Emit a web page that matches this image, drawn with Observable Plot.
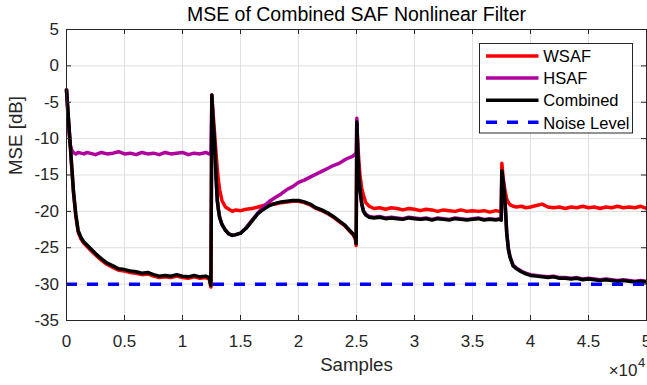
<!DOCTYPE html>
<html><head><meta charset="utf-8">
<script src="https://cdn.jsdelivr.net/npm/d3@7"></script>
<script src="https://cdn.jsdelivr.net/npm/@observablehq/plot@0.6"></script>
<style>
html,body{margin:0;padding:0;background:#fff;overflow:hidden}
#wrap{position:relative;width:647px;height:385px;font-family:"Liberation Sans",Arial,Helvetica,sans-serif}
</style></head><body><div id="wrap"></div>
<script>
const titleText = "MSE of Combined SAF Nonlinear Filter";
const xLabel = "Samples";
const yLabel = "MSE [dB]";
const xExponentBase = "×10";
const xExponent = "4";
const xTicks = [0, 5000, 10000, 15000, 20000, 25000, 30000, 35000, 40000, 45000, 50000];
const yTicks = [-35, -30, -25, -20, -15, -10, -5, 0, 5];
const seriesNames = ["WSAF", "HSAF", "Combined", "Noise Level"];
const seriesColors = ["#ff0000", "#b0009e", "#000000", "#0000ff"];
const noiseLevel = -30;

const samples = [
  0, 150, 300, 450, 600, 800, 1000, 1250, 1500, 1750, 2000, 2500, 3000, 3500, 4000, 4500, 5000, 5500, 6000, 6500, 7000, 7500, 8000, 8500, 9000, 9500, 10000, 10500, 11000, 11500, 12000, 12300, 12450,
  12530, 12600, 12700, 12800, 12900, 13000, 13100, 13200, 13400, 13700, 14000, 14300, 14600, 15000, 15500, 16000, 16500, 17000, 17500, 18000, 18500, 19000, 19500, 20000, 20500, 21000, 21500, 22000, 22500, 23000, 23500, 24000, 24400, 24700, 24900, 24970,
  25030, 25100, 25200, 25300, 25450, 25600, 25800, 26100, 26500, 27000, 27500, 28000, 28500, 29000, 29500, 30000, 30500, 31000, 31500, 32000, 32500, 33000, 33500, 34000, 34500, 35000, 35500, 36000, 36500, 37000, 37300, 37480,
  37530, 37650, 37800, 37950, 38100, 38250, 38500, 38800, 39200, 39600, 40000, 40500, 41000, 41500, 42000, 42500, 43000, 43500, 44000, 44500, 45000, 45500, 46000, 46500, 47000, 47500, 48000, 48500, 49000, 49500, 50000
];
const wsaf = [
  -3.3, -6.9, -10.4, -13.9, -17.4, -20.6, -22.8, -23.8, -24.4, -24.8, -25.2, -26.0, -26.7, -27.3, -27.7, -28.1, -28.2, -28.4, -28.5, -28.7, -28.6, -28.9, -29.1, -29.0, -29.1, -28.9, -29.1, -29.2, -29.0, -29.2, -29.1, -29.3, -30.4,
  -4.0, -5.8, -7.8, -10.0, -12.2, -14.2, -15.8, -17.0, -18.5, -19.4, -19.7, -20.0, -19.8, -19.9, -19.7, -19.6, -19.4, -19.2, -19.0, -19.0, -18.8, -18.7, -18.6, -18.6, -18.8, -19.1, -19.6, -19.9, -20.3, -20.8, -21.4, -22.0, -22.7, -23.2, -23.8, -24.7,
  -8.0, -10.5, -13.0, -15.0, -16.8, -17.8, -18.8, -19.3, -19.6, -19.5, -19.7, -19.5, -19.6, -19.8, -19.6, -19.7, -19.9, -19.7, -19.8, -20.0, -19.8, -19.9, -20.0, -19.8, -20.0, -19.9, -20.0, -19.9, -20.1, -19.9, -20.0, -20.0,
  -13.4, -15.5, -17.1, -18.3, -18.8, -19.1, -19.3, -19.4, -19.3, -19.5, -19.4, -19.2, -19.0, -19.4, -19.5, -19.4, -19.6, -19.4, -19.5, -19.3, -19.5, -19.4, -19.6, -19.4, -19.5, -19.3, -19.5, -19.4, -19.5, -19.3, -19.6
];
const hsaf = [
  -3.3, -7.6, -10.7, -11.6, -11.9, -12.1, -11.9, -12.0, -12.1, -11.9, -12.0, -12.2, -11.9, -12.1, -12.0, -11.8, -12.1, -12.0, -12.2, -11.9, -12.1, -12.0, -12.2, -11.9, -12.1, -12.0, -11.9, -12.2, -12.0, -12.1, -11.9, -12.1, -12.2,
  -4.2, -6.5, -9.0, -11.5, -15.5, -18.5, -19.8, -20.8, -21.8, -22.6, -23.1, -23.3, -23.2, -23.0, -22.2, -21.2, -20.2, -19.3, -18.6, -18.1, -17.6, -17.0, -16.6, -16.0, -15.7, -15.3, -14.9, -14.5, -14.1, -13.7, -13.4, -12.9, -12.6, -12.4, -12.1, -12.0,
  -7.2, -11.0, -14.6, -16.9, -18.9, -19.9, -20.4, -20.7, -20.8, -20.7, -20.9, -20.8, -20.9, -21.0, -20.8, -20.9, -21.0, -20.9, -21.1, -20.9, -21.0, -21.1, -20.9, -21.0, -21.1, -21.0, -20.9, -21.1, -21.0, -21.1, -21.0, -21.1,
  -14.6, -16.0, -18.4, -22.9, -25.2, -26.3, -27.4, -27.8, -28.2, -28.5, -28.7, -28.8, -28.9, -29.0, -28.9, -29.1, -29.1, -29.2, -29.1, -29.3, -29.2, -29.3, -29.4, -29.3, -29.4, -29.5, -29.4, -29.5, -29.6, -29.5, -29.6
];
const combined = [
  -3.3, -6.8, -10.3, -13.8, -17.2, -20.4, -22.6, -23.6, -24.2, -24.6, -25.0, -25.8, -26.5, -27.1, -27.5, -27.9, -28.0, -28.2, -28.3, -28.5, -28.4, -28.7, -28.9, -28.8, -28.9, -28.7, -28.9, -29.0, -28.8, -29.0, -28.9, -29.1, -30.2,
  -4.0, -6.5, -9.0, -11.5, -15.5, -18.5, -19.8, -20.8, -21.8, -22.6, -23.1, -23.3, -23.2, -23.0, -22.3, -21.3, -20.3, -19.7, -19.2, -18.9, -18.7, -18.6, -18.5, -18.5, -18.7, -19.0, -19.5, -19.8, -20.2, -20.7, -21.3, -21.9, -22.6, -23.1, -23.6, -24.4,
  -7.7, -11.5, -14.8, -17.0, -19.0, -20.0, -20.5, -20.8, -20.9, -20.8, -21.0, -20.9, -21.0, -21.1, -20.9, -21.0, -21.1, -21.0, -21.2, -21.0, -21.1, -21.2, -21.0, -21.1, -21.2, -21.1, -21.0, -21.2, -21.1, -21.2, -21.1, -21.2,
  -14.4, -16.0, -18.5, -23.0, -25.3, -26.4, -27.5, -27.9, -28.3, -28.6, -28.8, -28.9, -29.0, -29.1, -29.0, -29.2, -29.2, -29.3, -29.2, -29.4, -29.3, -29.4, -29.5, -29.4, -29.5, -29.6, -29.5, -29.6, -29.7, -29.6, -29.7
];

const W = 647, H = 385, mL = 66, mR = 1, mT = 29, mB = 65;
const xDom = [0, 50000], yDom = [-35, 5];
const tickPx = 5;
const dxTick = tickPx * (xDom[1] - xDom[0]) / (W - mL - mR);
const dyTick = tickPx * (yDom[1] - yDom[0]) / (H - mT - mB);
const axisColor = "#262626";
const gridColor = "#dfdfdf";
const font = '"Liberation Sans", Arial, Helvetica, sans-serif';
const pts = ys => samples.map((s, i) => ({x: s, y: ys[i]}));
const lw = 3.5;

const plot = Plot.plot({
  width: W, height: H,
  marginLeft: mL, marginRight: mR, marginTop: mT, marginBottom: mB,
  style: {fontFamily: font, background: "transparent", overflow: "visible"},
  x: {domain: xDom},
  y: {domain: yDom},
  marks: [
    Plot.gridX(xTicks, {stroke: gridColor, strokeOpacity: 1}),
    Plot.gridY(yTicks, {stroke: gridColor, strokeOpacity: 1}),
    Plot.line(pts(wsaf), {x: "x", y: "y", stroke: seriesColors[0], strokeWidth: lw, strokeLinejoin: "round"}),
    Plot.line(pts(hsaf), {x: "x", y: "y", stroke: seriesColors[1], strokeWidth: lw, strokeLinejoin: "round"}),
    Plot.line(pts(combined), {x: "x", y: "y", stroke: seriesColors[2], strokeWidth: lw, strokeLinejoin: "round"}),
    Plot.ruleY([noiseLevel], {stroke: seriesColors[3], strokeWidth: 3.5, strokeDasharray: "11,10"}),
    Plot.frame({stroke: axisColor}),
    Plot.ruleX(xTicks, {x: d => d, y1: () => yDom[0], y2: () => yDom[0] + dyTick, stroke: axisColor}),
    Plot.ruleX(xTicks, {x: d => d, y1: () => yDom[1], y2: () => yDom[1] - dyTick, stroke: axisColor}),
    Plot.ruleY(yTicks, {y: d => d, x1: () => xDom[0], x2: () => xDom[0] + dxTick, stroke: axisColor}),
    Plot.ruleY(yTicks, {y: d => d, x1: () => xDom[1], x2: () => xDom[1] - dxTick, stroke: axisColor}),
    Plot.axisX(xTicks, {tickSize: 0, tickPadding: 14, tickFormat: d => String(d / 1e4), fontSize: 17, fill: axisColor, label: null}),
    Plot.axisY(yTicks, {tickSize: 0, tickPadding: 7.5, tickFormat: d => String(d), fontSize: 17, fill: axisColor, label: null}),
    Plot.text([titleText], {text: d => d, frameAnchor: "top", lineAnchor: "bottom", dy: -8.5, fontSize: 19.5, fill: "#000"}),
    Plot.text([xLabel], {text: d => d, frameAnchor: "bottom", lineAnchor: "bottom", dy: 50, fontSize: 18.7, fill: axisColor}),
    Plot.text([yLabel], {text: d => d, frameAnchor: "left", rotate: -90, lineAnchor: "middle", dx: -50, fontSize: 18.7, fill: axisColor}),
    Plot.text([xExponentBase], {text: d => d, frameAnchor: "bottom-right", textAnchor: "end", lineAnchor: "bottom", dx: -9, dy: 55, fontSize: 17, fill: axisColor}),
    Plot.text([xExponent], {text: d => d, frameAnchor: "bottom-right", textAnchor: "start", lineAnchor: "bottom", dx: -8.5, dy: 46, fontSize: 13, fill: axisColor})
  ]
});
const wrap = document.getElementById("wrap");
wrap.appendChild(plot);

// legend
const leg = d3.select(wrap).append("svg")
  .attr("width", 156).attr("height", 94)
  .style("position", "absolute").style("left", "479px").style("top", "43px")
  .style("font-family", font);
leg.append("rect").attr("x", 0.5).attr("y", 0.5).attr("width", 153).attr("height", 89.5)
  .attr("fill", "#fff").attr("stroke", axisColor).attr("stroke-width", 1);
seriesNames.forEach((name, i) => {
  const y = 13 + i * 22.1;
  leg.append("line").attr("x1", 7).attr("x2", 59.5).attr("y1", y).attr("y2", y)
    .attr("stroke", seriesColors[i]).attr("stroke-width", i === 3 ? 3.5 : lw)
    .attr("stroke-dasharray", i === 3 ? "11,10" : null);
  leg.append("text").attr("x", 64.3).attr("y", y + 6.2).attr("font-size", 16.5)
    .attr("fill", "#000").text(name);
});
</script></body></html>
